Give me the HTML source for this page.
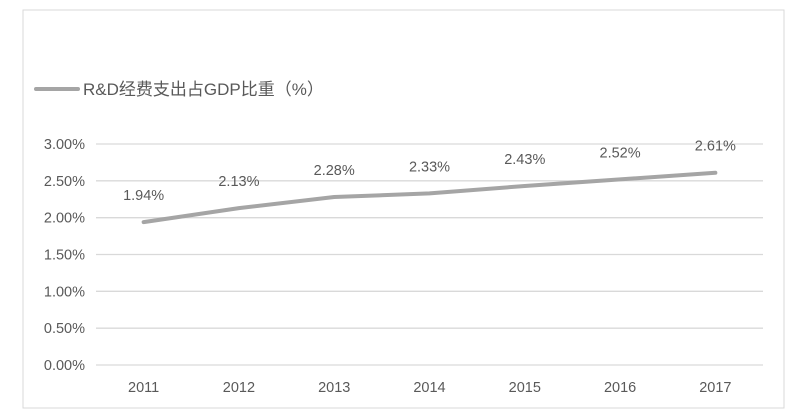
<!DOCTYPE html>
<html><head><meta charset="utf-8"><style>
body{margin:0;background:#fff;width:798px;height:410px;overflow:hidden}
svg text{font-family:"Liberation Sans","Noto Sans CJK SC",sans-serif;fill:#595959}
</style></head><body>
<svg id="c" width="798" height="410">
<rect x="23" y="10" width="761" height="398" fill="#fff" stroke="#d9d9d9"/>
<g>
<line x1="36" y1="89" x2="78" y2="89" stroke="#a5a5a5" stroke-width="4" stroke-linecap="round"/>
<text x="83" y="95" font-size="17">R&amp;D经费支出占GDP比重（%）</text>
</g>
<g id="grid"></g><g id="yl"></g><g id="xl"></g><g id="ser"></g>
</svg>
<script>
const years=["2011","2012","2013","2014","2015","2016","2017"];
const values=[1.94,2.13,2.28,2.33,2.43,2.52,2.61];
const yTicks=[0,0.5,1,1.5,2,2.5,3];
const NS="http://www.w3.org/2000/svg";
const L=96,R=763,T=144,B=365,yMax=3;
const xs=i=>L+(R-L)/years.length*(i+0.5);
const ys=v=>B-(B-T)*v/yMax;
function mk(t,a,p){const e=document.createElementNS(NS,t);for(const k in a)e.setAttribute(k,a[k]);document.getElementById(p).appendChild(e);return e;}
yTicks.forEach(v=>{
const g=mk('line',{x1:L,x2:R,y1:ys(v),y2:ys(v),stroke:'#d9d9d9','stroke-width':1.3},'grid');


const t=mk('text',{x:85,y:ys(v)+5,'text-anchor':'end','font-size':14.5},'yl');t.textContent=v.toFixed(2)+'%';


});
years.forEach((y,i)=>{
const t=mk('text',{x:xs(i),y:392,'text-anchor':'middle','font-size':14.5},'xl');t.textContent=y;


});
const pl=mk('polyline',{points:values.map((v,i)=>xs(i)+','+ys(v)).join(' '),fill:'none',stroke:'#a5a5a5','stroke-width':4,'stroke-linejoin':'round','stroke-linecap':'round'},'ser');


values.forEach((v,i)=>{
const t=mk('text',{x:xs(i),y:ys(v)-22,'text-anchor':'middle','font-size':14.5},'ser');t.textContent=v.toFixed(2)+'%';


});
</script>
</body></html>
